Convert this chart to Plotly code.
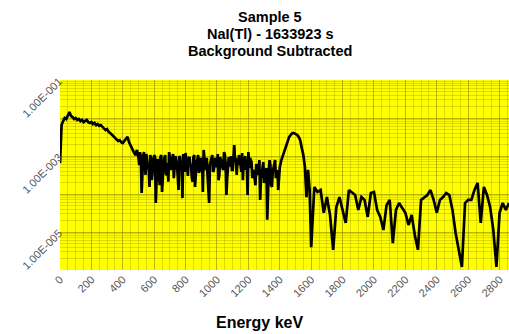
import plotly.graph_objects as go

# Energy channels (keV)
energy_low = list(range(0, 1600, 10))
energy_high = list(range(1600, 2861, 20))
energy_mid = list(range(505, 1400, 10))   # extra channels in the noisy continuum

counts_low = [
    6.5e-4, 6.5e-3, 8.3e-3, 1.0e-2, 9.4e-3, 1.2e-2, 1.44e-2, 1.13e-2, 1.06e-2, 9.4e-3,
    1.0e-2, 8.9e-3, 9.4e-3, 8.3e-3, 8.9e-3, 7.8e-3, 8.3e-3, 8.9e-3, 7.8e-3, 7.4e-3,
    7.8e-3, 6.9e-3, 7.4e-3, 6.5e-3, 6.9e-3, 6.2e-3, 6.5e-3, 5.8e-3, 5.5e-3, 4.8e-3,
    5.1e-3, 4.3e-3, 4.0e-3, 3.6e-3, 3.4e-3, 3.0e-3, 2.8e-3, 2.5e-3, 2.6e-3, 2.3e-3,
    2.2e-3, 2.5e-3, 2.8e-3, 3.2e-3, 2.3e-3, 1.83e-3, 1.44e-3, 1.27e-3, 1.06e-3, 1.44e-3,
    8.9e-4, 1.27e-3, 1.06e-4, 1.0e-3, 6.9e-4, 1.13e-3, 4.8e-4, 1.53e-4, 8.9e-4, 5.8e-4,
    1.06e-3, 5.8e-5, 7.8e-4, 4.3e-4, 9.4e-4, 1.13e-4, 6.5e-4, 1.06e-3, 3.2e-4, 2.1e-4,
    8.9e-4, 5.5e-4, 1.13e-3, 4.3e-4, 7.8e-4, 3.0e-4, 1.0e-3, 4.8e-4, 7.8e-5, 7.8e-4,
    1.2e-3, 3.8e-4, 8.9e-4, 5.8e-4, 2.6e-4, 9.4e-4, 1.53e-4, 6.9e-4, 1.06e-3, 4.3e-4,
    7.8e-4, 1.13e-4, 8.9e-4, 4.8e-4, 3.0e-4, 5.8e-5, 7.8e-4, 1.06e-3, 4.3e-4, 8.9e-4,
    5.8e-4, 2.3e-4, 9.4e-4, 6.9e-4, 4.3e-4, 1.06e-3, 9.4e-5, 7.8e-4, 5.8e-4, 1.0e-3,
    4.3e-4, 1.95e-3, 8.9e-4, 6.5e-4, 1.06e-3, 4.8e-4, 1.2e-3, 7.8e-4, 1.0e-3, 5.8e-4,
    1.27e-3, 8.9e-4, 6.9e-4, 4.3e-4, 2.1e-4, 5.8e-4, 3.6e-4, 7.8e-4, 2.6e-4, 4.8e-4,
    1.95e-4, 3.2e-4, 2.1e-5, 4.3e-4, 5.8e-4, 1.53e-4, 4.8e-4, 7.8e-4, 3.8e-4, 1.27e-4,
    5.1e-4, 7.8e-4, 1.06e-3, 1.44e-3, 1.95e-3, 2.6e-3, 3.2e-3, 3.6e-3, 4.0e-3, 4.0e-3,
    3.8e-3, 3.6e-3, 3.2e-3, 2.6e-3, 1.63e-3, 1.06e-3, 5.1e-4, 8.3e-5, 4.3e-4, 1.27e-4,
]
counts_mid = [
    5.8e-4, 8.9e-4, 4.3e-4, 1.27e-3, 3.2e-4, 7.8e-4, 4.8e-4, 1.06e-3, 2.3e-4, 6.9e-4,
    9.4e-4, 3.8e-4, 7.8e-4, 1.7e-4, 1.06e-3, 5.5e-4, 8.9e-4, 3.4e-4, 6.5e-4, 1.27e-3,
    4.3e-4, 7.8e-4, 2.6e-4, 1.0e-3, 5.8e-4, 1.27e-4, 8.9e-4, 4.8e-4, 1.13e-3, 3.8e-4,
    7.8e-4, 3.0e-4, 9.4e-4, 5.8e-4, 2.1e-4, 1.06e-3, 4.8e-4, 7.8e-4, 3.6e-4, 8.9e-4,
    6.9e-4, 1.44e-3, 4.3e-4, 8.9e-4, 1.7e-4, 6.1e-4, 1.0e-3, 3.8e-4, 7.8e-4, 5.1e-4,
    1.13e-3, 3.2e-4, 7.8e-4, 4.8e-4, 1.27e-3, 6.5e-4, 2.6e-4, 9.4e-4, 5.5e-4, 4.3e-4,
    1.06e-3, 7.8e-4, 3.2e-4, 5.8e-4, 8.9e-4, 3.8e-4, 2.3e-4, 6.5e-4, 4.3e-4, 9.4e-5,
    4.8e-4, 7.8e-4, 2.6e-4, 3.8e-4, 1.7e-4, 5.8e-4, 3.2e-4, 7.0e-5, 4.3e-4, 6.9e-4,
    2.3e-4, 4.8e-4, 3.2e-4, 7.8e-4, 1.7e-4, 3.8e-4, 5.8e-4, 2.6e-4, 4.3e-4, 3.2e-4,
]
counts_high = [
    4.0e-6, 1.53e-4, 1.13e-4, 1.27e-4, 3.2e-5, 8.3e-5, 2.8e-5, 3.4e-6, 4.5e-5, 8.3e-5,
    3.8e-5, 1.73e-5, 1.27e-4, 1.06e-4, 9.4e-5, 3.8e-5, 8.3e-5, 7.0e-5, 2.5e-5, 1.06e-4,
    1.13e-4, 3.8e-5, 2.5e-5, 1.13e-5, 5.1e-5, 7.0e-5, 5.1e-6, 3.8e-5, 5.8e-5, 4.3e-5,
    3.2e-5, 1.53e-5, 2.8e-5, 8.3e-6, 3.4e-6, 7.0e-5, 8.3e-5, 9.4e-5, 1.27e-4, 7.0e-5,
    3.2e-5, 7.0e-5, 8.3e-5, 1.06e-4, 9.4e-5, 3.8e-5, 9.4e-6, 3.4e-6, 1.2e-6, 5.8e-5,
    7.0e-5, 7.0e-5, 1.27e-4, 1.95e-4, 1.73e-5, 1.53e-4, 9.4e-5, 4.5e-5, 1.13e-5, 1.2e-6,
    3.2e-5, 5.8e-5, 3.8e-5, 5.8e-5,
]

pairs = sorted(zip(energy_low + energy_mid + energy_high,
                   counts_low + counts_mid + counts_high))
energy = [p[0] for p in pairs]
counts = [p[1] for p in pairs]

x_ticks = list(range(0, 2801, 200))
y_tickvals = [1e-6, 1e-5, 1e-4, 1e-3, 1e-2, 1e-1]
y_ticktext = ["", "1.00E-005", "", "1.00E-003", "", "1.00E-001"]

title_lines = ["Sample 5", "NaI(Tl) - 1633923 s", "Background Subtracted"]
x_title = "Energy keV"

fig = go.Figure()
fig.add_trace(go.Scatter(
    x=energy, y=counts, mode="lines",
    line=dict(color="black", width=2.7),
    showlegend=False, hoverinfo="skip",
))

font_family = "Liberation Sans, Arial, sans-serif"
grid_minor = "rgba(150,150,0,0.33)"
grid_major = "rgba(140,140,0,0.45)"

fig.update_layout(
    width=509, height=334,
    margin=dict(l=60, r=0, t=80, b=64, autoexpand=False),
    paper_bgcolor="white",
    plot_bgcolor="#FFFF00",
    font=dict(family=font_family, color="#333333"),
    xaxis=dict(
        range=[0, 2860],
        tickvals=x_ticks,
        ticktext=[str(v) for v in x_ticks],
        tickangle=-45,
        tickfont=dict(size=11, color="#555555"),
        showgrid=True, gridcolor=grid_major, gridwidth=1,
        minor=dict(dtick=50, showgrid=True, gridcolor=grid_minor, gridwidth=1),
        zeroline=False, showline=False, ticks="",
        automargin=False,
    ),
    yaxis=dict(
        type="log",
        range=[-6, -1],
        tickvals=y_tickvals,
        ticktext=y_ticktext,
        tickangle=-45,
        tickfont=dict(size=11, color="#555555"),
        showgrid=True, gridcolor=grid_major, gridwidth=1,
        minor=dict(dtick="D1", showgrid=True, gridcolor=grid_minor, gridwidth=1),
        zeroline=False, showline=False, ticks="",
        automargin=False,
    ),
)

title_y = [17, 34, 51]
for line, yp in zip(title_lines, title_y):
    fig.add_annotation(
        text="<b>%s</b>" % line, xref="paper", yref="paper",
        x=(270 - 60) / 449, y=(270 - yp) / 190,
        xanchor="center", yanchor="middle", showarrow=False,
        font=dict(family=font_family, size=14.5, color="black"),
    )

fig.add_annotation(
    text="<b>%s</b>" % x_title, xref="paper", yref="paper",
    x=(259 - 60) / 449, y=(270 - 322) / 190,
    xanchor="center", yanchor="middle", showarrow=False,
    font=dict(family=font_family, size=16, color="black"),
)

fig.write_html("out.html", config={"displayModeBar": False},
               post_script="document.body.style.margin='0';")
